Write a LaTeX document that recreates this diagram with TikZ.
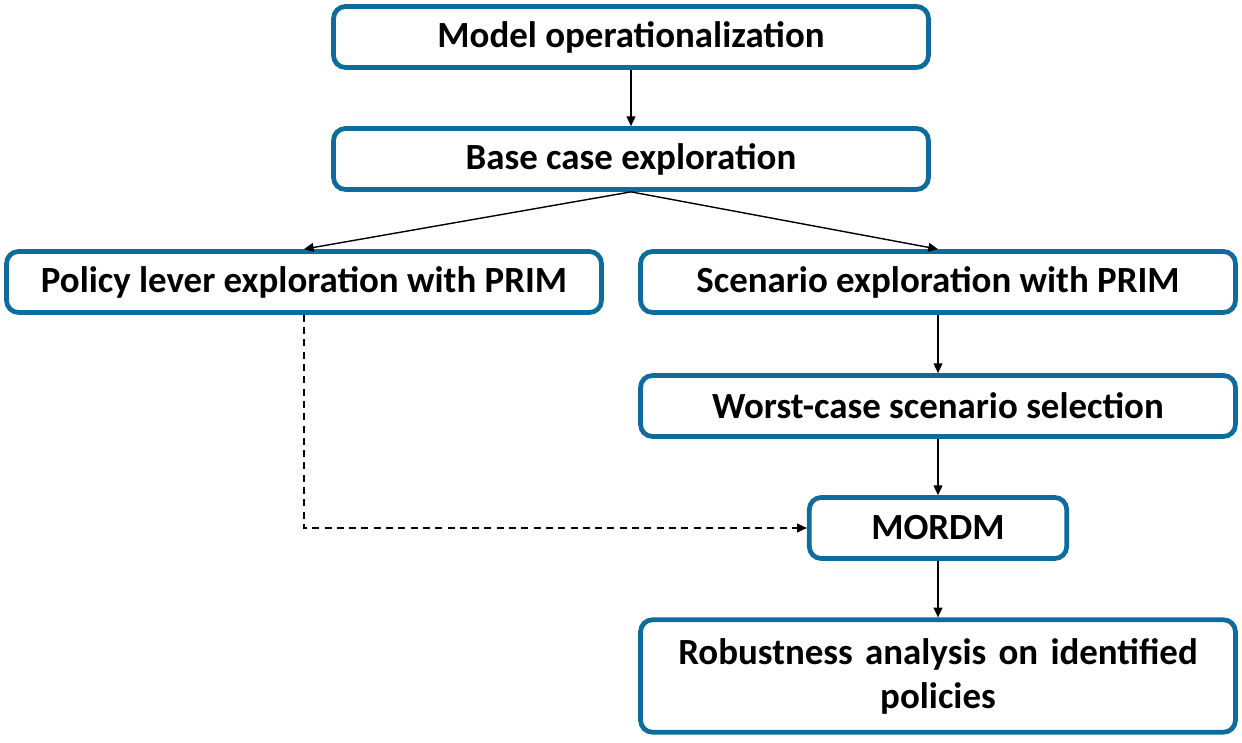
\documentclass[tikz,border=0pt]{standalone}
\usepackage{fontspec}
\setmainfont{Carlito}
\usetikzlibrary{arrows.meta}
\definecolor{boxblue}{RGB}{14,108,156}
\begin{document}
\begin{tikzpicture}[x=0.02cm,y=-0.02cm,
    every node/.style={font=\bfseries\fontsize{21}{25}\selectfont,inner sep=0pt},
    stepbox/.style={draw=boxblue,line width=2.7pt,rounded corners=0.24cm,fill=white,minimum width=11.9cm,minimum height=1.22cm,align=center},
    flow/.style={-{Triangle[length=5.5pt,width=5pt]},line width=0.8pt}]
  \useasboundingbox (0,0) rectangle (1242,743);
  \node [stepbox] (model) at (631,37) {Model operationalization};
  \node [stepbox] (base) at (631,159) {Base case exploration};
  \node [stepbox] (policy) at (304,282) {Policy lever exploration with PRIM};
  \node [stepbox] (scenario) at (938,282) {Scenario exploration with PRIM};
  \node [stepbox] (worst) at (938,406) {Worst-case scenario selection};
  \node [stepbox,minimum width=5.15cm] (mordm) at (938,528) {MORDM};
  \node [stepbox,minimum height=2.25cm,text width=11.2cm] (robust) at (938,676) {Robustness analysis on identified\\policies};
  \draw [flow] (model) -- (base);
  \draw [flow] (base.south) -- (policy.north);
  \draw [flow] (base.south) -- (scenario.north);
  \draw [flow] (scenario) -- (worst);
  \draw [flow] (worst) -- (mordm);
  \draw [flow] (mordm) -- (robust);
  \draw [flow,dash pattern=on 4pt off 3pt] (policy.south) |- (mordm.west);
\end{tikzpicture}
\end{document}
